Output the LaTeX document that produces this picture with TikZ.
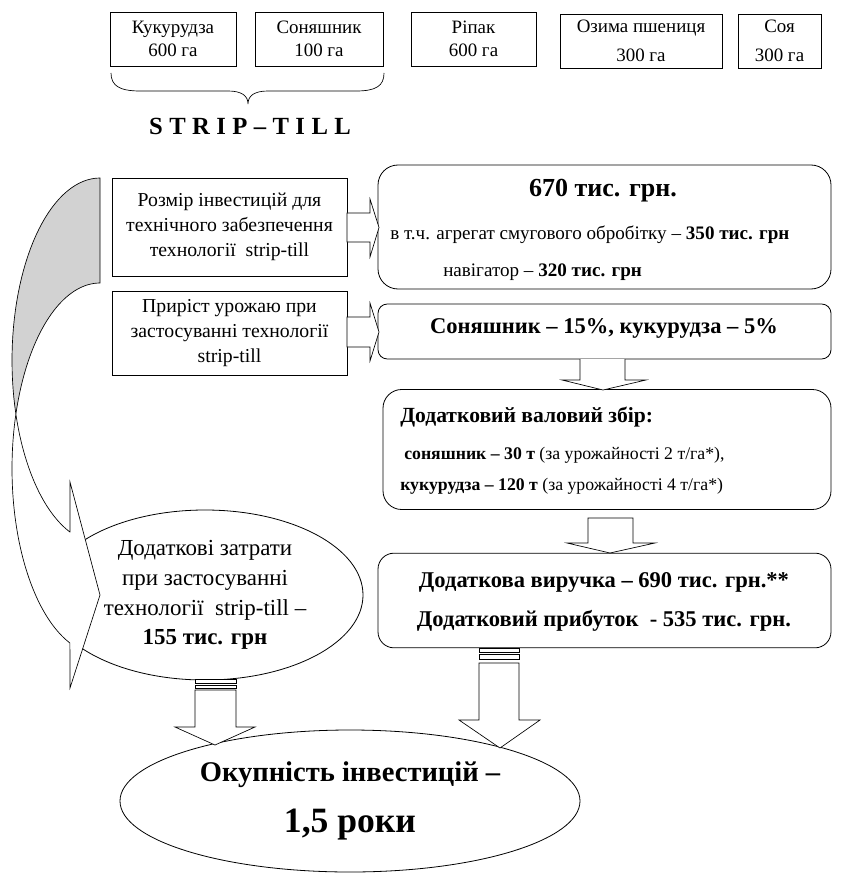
\documentclass[tikz,border=0pt]{standalone}
\usepackage{fontspec}
\setmainfont{Liberation Serif}
\usetikzlibrary{positioning, shapes.geometric}

\begin{document}
\begin{tikzpicture}[x=0.75pt, y=-0.75pt,
  crop/.style={rectangle, draw=black, line width=0.6pt, minimum height=40.5pt,
               inner sep=0pt, align=center, font=\fontsize{14.2}{17.5}\selectfont},
  side/.style={rectangle, draw=black, line width=0.6pt, minimum width=176.25pt,
               inner sep=0pt, align=center, font=\fontsize{14.8}{18.5}\selectfont},
  res/.style={rectangle, draw=black, line width=0.6pt, fill=white, inner sep=0pt},
  txt/.style={inner sep=0pt, font=\fontsize{14.3}{15}\selectfont},
  big/.style={inner sep=0pt, font=\bfseries\fontsize{16.9}{20}\selectfont},
  blk/.style={draw=black, fill=white, line width=0.5pt, line join=miter}
]
  \useasboundingbox (0,0) rectangle (844,884);

  % crops
  \node[crop, minimum width=94.5pt] (kuk) at (173,39) {Кукурудза\\600 га};
  \node[crop, minimum width=96pt] (son) at (319,39) {Соняшник\\100 га};
  \node[crop, minimum width=93.75pt] (rip) at (473.5,39) {Ріпак\\600 га};
  \node[crop, minimum width=121.5pt] (psh) at (641,41) {Озима пшениця\\[4.5pt]300 га};
  \node[crop, minimum width=62.25pt] (soy) at (779.5,41) {Соя\\[4.5pt]300 га};

  \draw[line width=0.5pt] (111,73) .. controls (111,86) and (120,91) .. (140,91)
    -- (228,91) .. controls (242,91) and (248,96) .. (248,104)
    .. controls (248,96) and (254,91) .. (268,91) -- (356,91)
    .. controls (376,91) and (384,86) .. (384,73);
  \node[inner sep=0pt, font=\bfseries\fontsize{18.5}{20}\selectfont\addfontfeature{LetterSpace=26}]
    (strip) at (250,126) {STRIP–TILL};

  % left boxes
  \node[side, minimum height=73.5pt] (inv) at (229.5,227)
    {Розмір інвестицій для\\технічного забезпечення\\технології\ \ strip-till};
  \node[side, minimum height=63pt] (grow) at (229.5,333)
    {Приріст урожаю при\\застосуванні технології\\strip-till};

  % right boxes
  \node[res, rounded corners=15pt, minimum width=339.75pt, minimum height=93pt] (cost) at (604.5,227) {};
  \node[big, font=\bfseries\fontsize{19.5}{20}\selectfont] (costa) at (603,191) {670 тис. грн.};
  \node[txt, anchor=west] (costb) at (390,235) {в т.ч. агрегат смугового обробітку – \textbf{350 тис. грн}};
  \node[txt, anchor=west] (costc) at (443,272) {навігатор – \textbf{320 тис. грн}};

  \node[res, rounded corners=7pt, minimum width=339.75pt, minimum height=41.25pt] (yield) at (604.5,331.5) {};
  \node[big] (yielda) at (604,328) {Соняшник – 15\%, кукурудза – 5\%};

  \node[res, rounded corners=14pt, minimum width=336pt, minimum height=90pt] (harvest) at (607,449.5) {};
  \node[big, anchor=west, font=\bfseries\fontsize{16.2}{20}\selectfont] (harvesta) at (400,417) {Додатковий валовий збір:};
  \node[txt, anchor=west, font=\fontsize{13.3}{14}\selectfont] (harvestb) at (404,455)
    {\textbf{соняшник – 30 т} (за урожайності 2 т/га*),};
  \node[txt, anchor=west, font=\fontsize{13.3}{14}\selectfont] (harvestc) at (400,486)
    {\textbf{кукурудза – 120 т} (за урожайності 4 т/га*)};

  \node[res, rounded corners=12pt, minimum width=339.75pt, minimum height=71pt] (gain) at (604.5,600.5) {};
  \node[big] (gaina) at (604,582) {Додаткова виручка – 690 тис. грн.**};
  \node[big] (gainb) at (604,621) {Додатковий прибуток\ \ - 535 тис. грн.};

  % ellipses
  \node[ellipse, draw=black, line width=0.6pt, minimum width=237pt, minimum height=127.5pt,
        inner sep=0pt, align=center, font=\fontsize{17.2}{22.3}\selectfont] (extra) at (205,595)
    {Додаткові затрати\\при застосуванні\\технології\ \ strip-till –\\\textbf{155 тис. грн}};
  \node[ellipse, draw=black, line width=0.6pt, minimum width=345pt, minimum height=106.5pt,
        inner sep=0pt, align=center, font=\bfseries\fontsize{21.4}{38}\selectfont] (pay) at (350,801)
    {Окупність інвестицій –\\{\fontsize{26.7}{38}\selectfont 1,5 роки}};

  % curved arrow
  \filldraw[fill=gray!35, line width=0.5pt]
    plot[domain=0:107.1, samples=40] ({100-88*sin(\x)}, {360.5-182.5*cos(\x)})
    -- plot[domain=72.9:0, samples=40] ({100-88*sin(\x)}, {468.6-185.6*cos(\x)}) -- cycle;
  \filldraw[fill=white, line width=0.5pt]
    plot[domain=72.9:160, samples=50] ({100-88*sin(\x)}, {468.6-185.6*cos(\x)})
    -- (70,688) -- (100,595) -- (70,482) -- (70,532)
    -- plot[domain=160:107.1, samples=40] ({100-88*sin(\x)}, {360.5-182.5*cos(\x)}) -- cycle;

  % block arrows
  \draw[blk] (347,213) -- (370,213) -- (370,199) -- (379,227.5) -- (370,257) -- (370,242) -- (347,242) -- cycle;
  \draw[blk] (347,317) -- (370,317) -- (370,303) -- (379,332) -- (370,361) -- (370,347) -- (347,347) -- cycle;
  \draw[blk] (580,359) -- (580,380) -- (562,380) -- (603,390) -- (646,380) -- (625,380) -- (625,359);
  \draw[blk] (588,518) -- (588,543) -- (567,543) -- (610,553) -- (655,543) -- (633,543) -- (633,518) -- cycle;
  \draw[blk] (195,679.5) rectangle (236,683);
  \draw[blk] (195,685) rectangle (236,688);
  \draw[blk] (195,690) -- (195,727) -- (175,727) -- (215,745) -- (255,727) -- (236,727) -- (236,690) -- cycle;
  \draw[blk] (479,648) rectangle (519,652.5);
  \draw[blk] (479,654.5) rectangle (519,659);
  \draw[blk] (479,663) -- (479,720) -- (459,720) -- (500,748) -- (540,720) -- (519,720) -- (519,663) -- cycle;
\end{tikzpicture}
\end{document}
